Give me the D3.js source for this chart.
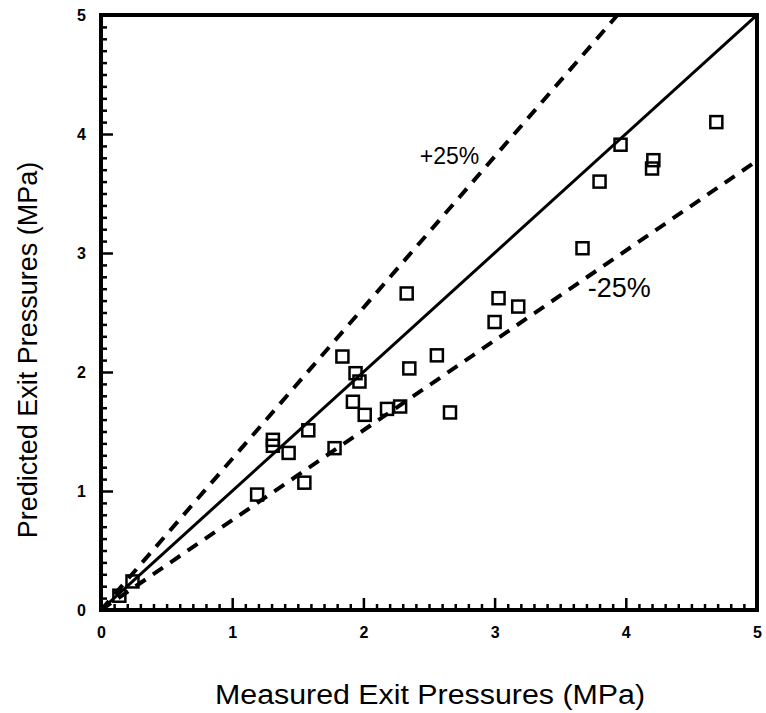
<!DOCTYPE html>
<html>
<head>
<meta charset="utf-8">
<script src="https://cdn.jsdelivr.net/npm/d3@7"></script>
<style>
  html, body { margin: 0; padding: 0; background: #fff; }
  svg { display: block; font-family: "Liberation Sans", Arial, Helvetica, sans-serif; }
</style>
</head>
<body>
<svg id="chart" width="766" height="713"></svg>
<script>
// ---- data ----
const measured  = [1.19, 1.31, 1.31, 1.43, 1.55, 1.58, 1.78, 1.84, 1.92, 1.94, 1.97, 2.01, 2.18, 2.28, 2.33, 2.35, 2.56, 2.66, 3.00, 3.03, 3.18, 3.67, 3.80, 3.96, 4.20, 4.21, 4.69, 0.14, 0.24];
const predicted = [0.97, 1.43, 1.38, 1.32, 1.07, 1.51, 1.36, 2.13, 1.75, 1.99, 1.92, 1.64, 1.69, 1.71, 2.66, 2.03, 2.14, 1.66, 2.42, 2.62, 2.55, 3.04, 3.60, 3.91, 3.71, 3.78, 4.10, 0.12, 0.24];
const majorTicks = [0, 1, 2, 3, 4, 5];
const minorTicks = d3.range(0, 50).map(i => i / 10).filter(v => Math.abs(v - Math.round(v)) > 1e-9);
const refLines = [
  { name: "1:1",  slope: 1.0,   dashed: false },
  { name: "+25%", slope: 1.27,  dashed: true },
  { name: "-25%", slope: 0.755, dashed: true }
];
const lineLabels = [
  { text: "+25%", x: 2.43, y: 3.75, size: 23 },
  { text: "-25%", x: 3.71, y: 2.63, size: 27 }
];
const xTitle = "Measured Exit Pressures (MPa)";
const yTitle = "Predicted Exit Pressures (MPa)";

// ---- layout ----
const svg = d3.select("#chart");
const pLeft = 101, pRight = 757, pTop = 15, pBottom = 610;
const x = d3.scaleLinear().domain([0, 5]).range([pLeft, pRight]);
const y = d3.scaleLinear().domain([0, 5]).range([pBottom, pTop]);

svg.append("defs").append("clipPath").attr("id", "clip")
  .append("rect").attr("x", pLeft).attr("y", pTop).attr("width", pRight - pLeft).attr("height", pBottom - pTop);

// reference lines
const g = svg.append("g").attr("clip-path", "url(#clip)");
refLines.forEach(l => {
  const xEnd = Math.min(5, 5 / l.slope);
  g.append("line")
    .attr("x1", x(0)).attr("y1", y(0))
    .attr("x2", x(xEnd)).attr("y2", y(xEnd * l.slope))
    .attr("stroke", "#000")
    .attr("stroke-width", l.dashed ? 4 : 3)
    .attr("stroke-dasharray", l.dashed ? "12,9" : null);
});

// points
const side = 12;
g.selectAll("rect.pt").data(measured.map((m, i) => [m, predicted[i]]))
  .enter().append("rect").attr("class", "pt")
  .attr("x", d => x(d[0]) - side / 2)
  .attr("y", d => y(d[1]) - side / 2)
  .attr("width", side).attr("height", side)
  .attr("fill", "none").attr("stroke", "#000").attr("stroke-width", 2.5);

// axes: minor ticks
svg.append("g").attr("transform", `translate(0,${pBottom})`)
  .call(d3.axisBottom(x).tickValues(minorTicks).tickSize(-6).tickFormat(""))
  .call(a => a.select(".domain").remove());
svg.append("g").attr("transform", `translate(${pLeft},0)`)
  .call(d3.axisLeft(y).tickValues(minorTicks).tickSize(-6).tickFormat(""))
  .call(a => a.select(".domain").remove());
// major ticks + labels
const xAx = svg.append("g").attr("transform", `translate(0,${pBottom})`)
  .call(d3.axisBottom(x).tickValues(majorTicks).tickSize(-12).tickPadding(17).tickFormat(d3.format("d")))
  .call(a => a.select(".domain").remove());
const yAx = svg.append("g").attr("transform", `translate(${pLeft},0)`)
  .call(d3.axisLeft(y).tickValues(majorTicks).tickSize(-12).tickPadding(15).tickFormat(d3.format("d")))
  .call(a => a.select(".domain").remove());
svg.selectAll(".tick line").attr("stroke", "#000").attr("stroke-width", 2.5);
[xAx, yAx].forEach(a => a.selectAll("text")
  .attr("font-size", 16).attr("font-weight", "bold").attr("fill", "#000")
  .attr("font-family", "'Liberation Sans', Arial, sans-serif"));

// frame
svg.append("rect").attr("x", pLeft).attr("y", pTop)
  .attr("width", pRight - pLeft).attr("height", pBottom - pTop)
  .attr("fill", "none").attr("stroke", "#000").attr("stroke-width", 4);

// line labels
lineLabels.forEach(l => {
  svg.append("text").attr("x", x(l.x)).attr("y", y(l.y))
    .attr("font-size", l.size).attr("fill", "#000").text(l.text);
});

// axis titles
svg.append("text").attr("x", 430).attr("y", 704).attr("text-anchor", "middle")
  .attr("font-size", 27).attr("textLength", 430).attr("lengthAdjust", "spacingAndGlyphs")
  .attr("fill", "#000").text(xTitle);
svg.append("text").attr("transform", "translate(37,350) rotate(-90)")
  .attr("text-anchor", "middle").attr("font-size", 27).attr("fill", "#000").text(yTitle);
</script>
</body>
</html>
